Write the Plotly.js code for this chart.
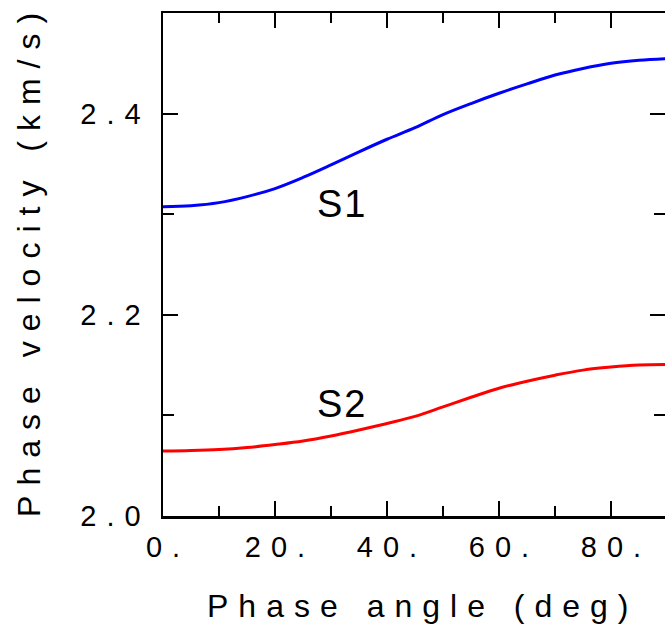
<!DOCTYPE html>
<html>
<head>
<meta charset="utf-8">
<script src="https://cdn.plot.ly/plotly-3.0.1.min.js"></script>
<style>
  html, body { margin: 0; padding: 0; background: #fff; }
  #chart { width: 665px; height: 627px; }
  .xtick text, .ytick text { letter-spacing: 10px; }
  .annotation-text { letter-spacing: 2px; }
  .annotation[data-index="2"] .annotation-text,
  .annotation[data-index="3"] .annotation-text { letter-spacing: 10px; }
  #paintbox { position: absolute; left: 200px; top: 245px; width: 400px; height: 80px;
              background: #fff; pointer-events: none; }
</style>
</head>
<body>
<div id="chart"></div>
<div id="paintbox"></div>
<script>
// Phase angle (deg)
const angle = [0, 5, 10, 15, 20, 25, 30, 35, 40, 45, 50, 55, 60, 65, 70, 75, 80, 85, 90];
// S1 phase velocity (km/s)
const s1 = [2.3075, 2.3085, 2.3115, 2.3175, 2.3255, 2.3365, 2.3490, 2.3620, 2.3745, 2.3860,
            2.3990, 2.4100, 2.4202, 2.4295, 2.4383, 2.4449, 2.4500, 2.4530, 2.4547];
// S2 phase velocity (km/s)
const s2 = [2.0645, 2.0650, 2.0660, 2.0680, 2.0710, 2.0745, 2.0795, 2.0855, 2.0920, 2.0990,
            2.1085, 2.1180, 2.1270, 2.1340, 2.1400, 2.1450, 2.1480, 2.1500, 2.1505];

const xTickVals = [0, 20, 40, 60, 80];
const xTickText = ["0.", "20.", "40.", "60.", "80."];
const yTickVals = [2.0, 2.2, 2.4];
const yTickText = ["2.0", "2.2", "2.4"];

const seriesNames = ["S1", "S2"];
const labelX = [32.0, 32.0];
const labelY = [2.310, 2.111];

const xTitle = 'Phase angle (deg)';
const yTitle = 'Phase velocity (km/s)';

const traces = [
  { x: angle, y: s1, name: seriesNames[0], mode: 'lines', line: { color: '#0000ff', width: 3, shape: 'spline' }, hoverinfo: 'skip' },
  { x: angle, y: s2, name: seriesNames[1], mode: 'lines', line: { color: '#ff0000', width: 3, shape: 'spline' }, hoverinfo: 'skip' }
];

const fam = 'Liberation Sans, Arial, sans-serif';
const axisFont = { family: fam, size: 29, color: '#000' };
const titleFont = { family: fam, size: 32, color: '#000' };

const annotations = seriesNames.map((n, i) => ({
  x: labelX[i], y: labelY[i], xref: 'x', yref: 'y', text: n, showarrow: false,
  font: { family: fam, size: 38, color: '#000' }
}));
annotations.push({
  x: 0.517, y: -0.178, xref: 'paper', yref: 'paper', text: xTitle, showarrow: false,
  xanchor: 'center', yanchor: 'middle', font: titleFont
});
annotations.push({
  x: -0.267, y: 0.509, xref: 'paper', yref: 'paper', text: yTitle, showarrow: false,
  textangle: -90, xanchor: 'center', yanchor: 'middle', font: titleFont
});

const layout = {
  width: 665, height: 627,
  margin: { l: 163, r: 0, t: 13, b: 111 },
  showlegend: false,
  xaxis: {
    range: [0, 89.64],
    tickmode: 'array', tickvals: xTickVals, ticktext: xTickText,
    ticks: 'inside', ticklen: 15, tickwidth: 2, tickcolor: '#000',
    minor: { ticks: 'inside', ticklen: 10, tickwidth: 2, tickcolor: '#000', dtick: 10, tick0: 0, showgrid: false },
    showline: true, linewidth: 2.5, linecolor: '#000', mirror: 'ticks',
    showgrid: false, zeroline: false,
    tickfont: axisFont,
    ticklabelstandoff: 4, ticklabelshift: 5
  },
  yaxis: {
    range: [2.0, 2.5],
    tickmode: 'array', tickvals: yTickVals, ticktext: yTickText,
    ticks: 'inside', ticklen: 15, tickwidth: 2, tickcolor: '#000',
    minor: { ticks: 'inside', ticklen: 11, tickwidth: 2, tickcolor: '#000', dtick: 0.1, tick0: 2.0, showgrid: false },
    showline: true, linewidth: 2.5, linecolor: '#000', mirror: 'ticks',
    showgrid: false, zeroline: false,
    tickfont: axisFont,
    ticklabelstandoff: 4
  },
  annotations: annotations
};

Plotly.newPlot('chart', traces, layout, { staticPlot: true }).then(() => {
  document.querySelectorAll('.main-svg path').forEach(e => e.getBoundingClientRect());
});
</script>
</body>
</html>
